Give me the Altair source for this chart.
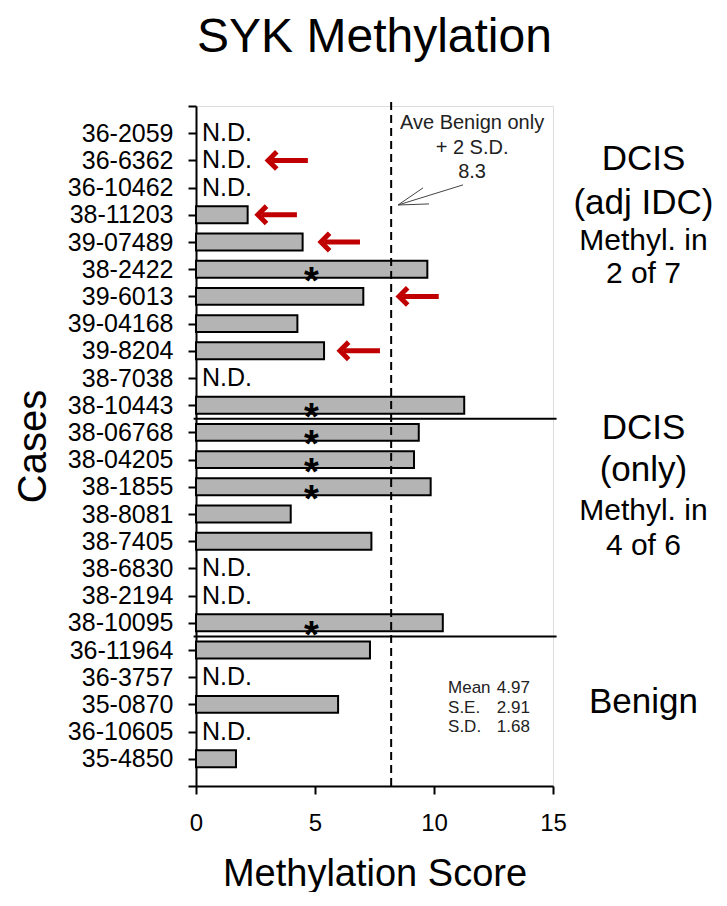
import json
import altair as alt
import pandas as pd

# ---------------- data ----------------
cases = ["36-2059", "36-6362", "36-10462", "38-11203", "39-07489", "38-2422",
         "39-6013", "39-04168", "39-8204", "38-7038", "38-10443",
         "38-06768", "38-04205", "38-1855", "38-8081", "38-7405", "38-6830",
         "38-2194", "38-10095",
         "36-11964", "36-3757", "35-0870", "36-10605", "35-4850"]
scores = [None, None, None, 2.17, 4.48, 9.72,
          7.03, 4.26, 5.38, None, 11.27,
          9.36, 9.16, 9.86, 3.98, 7.37, None,
          None, 10.37,
          7.31, None, 5.97, None, 1.68]
group_names = ["DCIS (adj IDC)", "DCIS (only)", "Benign"]
group_sizes = [11, 8, 5]
methylated = ["38-2422", "38-10443", "38-06768", "38-04205", "38-1855", "38-10095"]

arrow_cases = ["36-6362", "38-11203", "39-07489", "39-6013", "39-8204"]
arrow_heads = [3.03, 2.60, 5.25, 8.53, 6.05]
arrow_tails = [4.70, 4.24, 6.89, 10.20, 7.73]

threshold = 8.2
threshold_lines = ["Ave Benign only", "+ 2 S.D.", "8.3"]
stats_names = ["Mean", "S.E.", "S.D."]
stats_values = ["4.97", "2.91", "1.68"]

chart_title = "SYK Methylation"
group_label_big = [["DCIS", "(adj IDC)"], ["DCIS", "(only)"], ["Benign"]]
group_label_small = [["Methyl. in", "2 of 7"], ["Methyl. in", "4 of 6"], []]

# ---------------- layout / style ----------------
FONT = "Liberation Sans"
N = len(cases)
ROW_HALF = 0.31
GREY = "#b4b4b4"
RED = "#c00000"

xs = alt.Scale(domain=[0, 15], nice=False, zero=False)
ys = alt.Scale(domain=[-1, N], nice=False, zero=False, reverse=True)

label_expr = ("datum.value >= 0 && datum.value < %d ? %s[datum.value] : ''"
              % (N, json.dumps(cases)))

xaxis = alt.Axis(values=[0, 5, 10, 15], title="Methylation Score", grid=False,
                 labelFont=FONT, labelFontSize=24, labelColor="black",
                 labelPadding=17, labelFlush=False, labelOverlap=False,
                 tickSize=8, tickWidth=2, tickColor="black",
                 domainColor="black", domainWidth=2,
                 titleFont=FONT, titleFontSize=38, titleFontWeight="normal",
                 titleColor="black", titleBaseline="alphabetic", titleY=99)
yaxis = alt.Axis(values=list(range(-1, N + 1)), labelExpr=label_expr,
                 title="Cases", grid=False,
                 labelFont=FONT, labelFontSize=25, labelColor="black",
                 labelPadding=15, labelOverlap=False, labelFlush=False,
                 labelBaseline="middle",
                 tickSize=8, tickWidth=2, tickColor="black",
                 domainColor="black", domainWidth=2,
                 titleFont=FONT, titleFontSize=40, titleFontWeight="normal",
                 titleColor="black", titleAngle=270, titleBaseline="alphabetic",
                 titleX=-151, titleY=340)


def X(field, **kw):
    return alt.X(field, type="quantitative", scale=xs, axis=xaxis, **kw)


def Y(field, **kw):
    return alt.Y(field, type="quantitative", scale=ys, axis=yaxis, **kw)


rows = list(range(N))
df = pd.DataFrame({"case": cases, "row": rows, "score": scores})

bars = df.dropna().copy()
bars["zero"] = 0.0
bars["y0"] = bars["row"] - ROW_HALF
bars["y1"] = bars["row"] + ROW_HALF

nd = df[df["score"].isna()].copy()
nd["x"] = 0.25
nd["txt"] = "N.D."

stars = df[df["case"].isin(methylated)].copy()
stars["x"] = 4.85
stars["txt"] = "*"

arr = pd.DataFrame({"case": arrow_cases, "head": arrow_heads, "tail": arrow_tails})
arr["row"] = arr["case"].map({c: i for i, c in enumerate(cases)})
arr["shaft"] = arr["head"] + 0.15

# group separators
cum = 0
seps = []
for s in group_sizes[:-1]:
    cum += s
    seps.append(cum - 0.5)
sep_df = pd.DataFrame({"y": seps, "x0": [-0.1] * len(seps), "x1": [15.15] * len(seps)})

thr_df = pd.DataFrame({"x": [threshold], "y0": [-1.15], "y1": [N]})

bar_layer = alt.Chart(bars).mark_rect(fill=GREY, stroke="black", strokeWidth=2).encode(
    x=X("zero"), x2="score", y=Y("y0"), y2="y1")

nd_layer = alt.Chart(nd).mark_text(font=FONT, fontSize=25, align="left",
                                   baseline="middle", color="black").encode(
    x=X("x"), y=Y("row"), text="txt:N")

star_layer = alt.Chart(stars).mark_text(font=FONT, fontSize=38, fontWeight="bold",
                                        align="center", baseline="alphabetic", dy=25,
                                        color="black").encode(
    x=X("x"), y=Y("row"), text="txt:N")

shaft_layer = alt.Chart(arr).mark_rule(color=RED, strokeWidth=5).encode(
    x=X("shaft"), x2="tail", y=Y("row"))
head_layer = alt.Chart(arr).mark_point(shape="M1,-1L0,0L1,1", size=300, filled=False,
                                       stroke=RED, strokeWidth=5, opacity=1,
                                       strokeJoin="miter", strokeCap="butt").encode(
    x=X("head"), y=Y("row"))

sep_layer = alt.Chart(sep_df).mark_rule(color="black", strokeWidth=2).encode(
    x=X("x0"), x2="x1", y=Y("y"))

thr_layer = alt.Chart(thr_df).mark_rule(color="black", strokeWidth=2,
                                        strokeDash=[8, 5]).encode(
    x=X("x"), y=Y("y0"), y2="y1")

# threshold annotation text
thr_txt = pd.DataFrame({"txt": threshold_lines, "x": [11.6] * 3,
                        "y": [-0.375, 0.54, 1.43]})
thr_text_layer = alt.Chart(thr_txt).mark_text(font=FONT, fontSize=20, align="center",
                                              baseline="middle", color="#222").encode(
    x=X("x"), y=Y("y"), text="txt:N")

# thin pointer arrow to the threshold line
ptr = pd.DataFrame({"x0": [11.22, 9.54, 9.79], "y0": [1.90, 2.01, 2.60],
                    "x1": [8.49, 8.49, 8.49], "y1": [2.64, 2.64, 2.64]})
ptr_layer = alt.Chart(ptr).mark_rule(color="#444", strokeWidth=1).encode(
    x=X("x0"), x2="x1", y=Y("y0"), y2="y1")

# benign stats
st = pd.DataFrame({"name": stats_names, "val": stats_values,
                   "xl": [10.59] * 3, "xr": [14.03] * 3,
                   "y": [20.4, 21.13, 21.83]})
st_name_layer = alt.Chart(st).mark_text(font=FONT, fontSize=17, align="left",
                                        baseline="middle", color="#222").encode(
    x=X("xl"), y=Y("y"), text="name:N")
st_val_layer = alt.Chart(st).mark_text(font=FONT, fontSize=17, align="right",
                                       baseline="middle", color="#222").encode(
    x=X("xr"), y=Y("y"), text="val:N")

# group labels on the right
big_y = [[0.95, 2.57], [10.84, 12.38], [20.9]]
small_y = [[3.96, 5.18], [13.89, 15.18], []]
big_rows, small_rows = [], []
for g in range(len(group_names)):
    for t, yy in zip(group_label_big[g], big_y[g]):
        big_rows.append({"txt": t, "x": 18.8, "y": yy})
    for t, yy in zip(group_label_small[g], small_y[g]):
        small_rows.append({"txt": t, "x": 18.8, "y": yy})
big_layer = alt.Chart(pd.DataFrame(big_rows)).mark_text(
    font=FONT, fontSize=35, align="center", baseline="middle", color="black").encode(
    x=X("x"), y=Y("y"), text="txt:N")
small_layer = alt.Chart(pd.DataFrame(small_rows)).mark_text(
    font=FONT, fontSize=30, align="center", baseline="middle", color="black").encode(
    x=X("x"), y=Y("y"), text="txt:N")

# chart title, as a text mark centred over the plot
title_layer = alt.Chart(pd.DataFrame({"txt": [chart_title], "x": [7.5], "y": [-2.985]})
                        ).mark_text(font=FONT, fontSize=48, align="center",
                                    baseline="alphabetic", color="black").encode(
    x=X("x"), y=Y("y"), text="txt:N")

chart = alt.layer(
    bar_layer, nd_layer, star_layer, sep_layer, thr_layer, shaft_layer, head_layer,
    thr_text_layer, ptr_layer, st_name_layer, st_val_layer, big_layer, small_layer,
    title_layer
).properties(
    width=357, height=680,
    autosize=alt.AutoSizeParams(type="none"),
    padding={"left": 188, "top": 98, "right": 160, "bottom": 106},
).configure_view(stroke="black", strokeWidth=2, fill="white"
).configure(background="white")

chart.save("out.html", embed_options={"renderer": "svg", "actions": False})
